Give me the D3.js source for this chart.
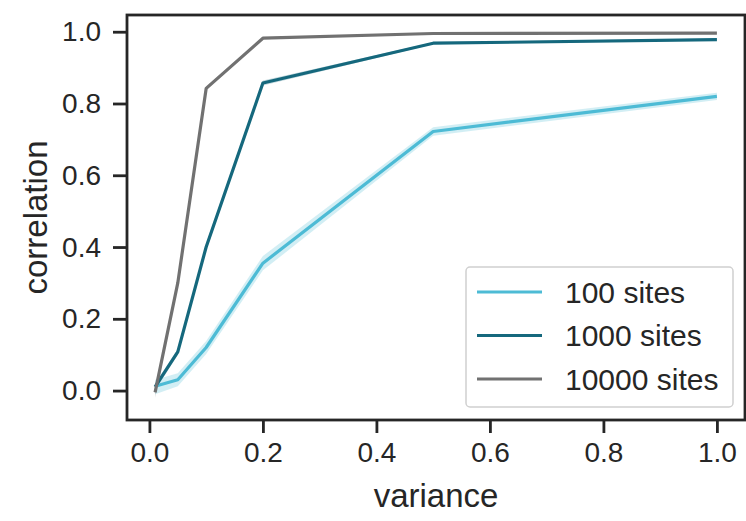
<!DOCTYPE html>
<html><head><meta charset="utf-8">
<script src="https://cdn.jsdelivr.net/npm/d3@7"></script>
<style>
body{margin:0;background:#fff;}
text{font-family:"Liberation Sans",Arial,sans-serif;fill:#262626;}
</style></head>
<body>
<svg id="chart" width="746" height="521"></svg>
<script>
const variance = [0.01, 0.05, 0.1, 0.2, 0.5, 1.0];
const seriesNames = ["100 sites", "1000 sites", "10000 sites"];
const colors = ["#4DBBD5", "#15687D", "#717171"];
const corr100 = [0.012, 0.030, 0.120, 0.355, 0.722, 0.820];
const lo100   = [-0.010, 0.012, 0.102, 0.335, 0.710, 0.810];
const hi100   = [0.030, 0.048, 0.138, 0.375, 0.734, 0.830];
const corr1000 = [0.010, 0.108, 0.400, 0.857, 0.968, 0.978];
const lo1000   = [0.000, 0.100, 0.390, 0.850, 0.965, 0.975];
const hi1000   = [0.020, 0.116, 0.410, 0.864, 0.971, 0.981];
const corr10000 = [-0.005, 0.300, 0.842, 0.982, 0.995, 0.996];
const lo10000   = [-0.020, 0.290, 0.836, 0.980, 0.994, 0.995];
const hi10000   = [0.010, 0.310, 0.848, 0.984, 0.996, 0.997];
const xTicks = [0.0, 0.2, 0.4, 0.6, 0.8, 1.0];
const yTicks = [0.0, 0.2, 0.4, 0.6, 0.8, 1.0];

const series = [
  {name: seriesNames[0], color: colors[0], y: corr100, lo: lo100, hi: hi100},
  {name: seriesNames[1], color: colors[1], y: corr1000, lo: lo1000, hi: hi1000},
  {name: seriesNames[2], color: colors[2], y: corr10000, lo: lo10000, hi: hi10000}
];

const L = 127, R = 745, T = 15, B = 420;
const x = d3.scaleLinear().domain([-0.0395, 1.0495]).range([L, R]);
const y = d3.scaleLinear().domain([-0.082, 1.0466]).range([B, T]);

const svg = d3.select("#chart");

// bands
series.forEach(s => {
  const area = d3.area()
    .x((d, i) => x(variance[i]))
    .y0((d, i) => y(s.lo[i]))
    .y1((d, i) => y(s.hi[i]));
  svg.append("path").datum(s.y).attr("d", area)
    .attr("fill", s.color).attr("fill-opacity", 0.25).attr("stroke", "none");
});
// lines
series.forEach(s => {
  const line = d3.line().x((d, i) => x(variance[i])).y(d => y(d));
  svg.append("path").datum(s.y).attr("d", line)
    .attr("fill", "none").attr("stroke", s.color).attr("stroke-width", 3.2)
    .attr("stroke-linejoin", "round");
});

// axes
const xAxis = d3.axisBottom(x).tickValues(xTicks).tickFormat(d3.format(".1f")).tickSize(13).tickPadding(9);
const yAxis = d3.axisLeft(y).tickValues(yTicks).tickFormat(d3.format(".1f")).tickSize(14).tickPadding(12);
const gx = svg.append("g").attr("transform", `translate(0,${B})`).call(xAxis);
const gy = svg.append("g").attr("transform", `translate(${L},0)`).call(yAxis);
[gx, gy].forEach(g => {
  g.select(".domain").remove();
  g.selectAll(".tick line").attr("stroke", "#262626").attr("stroke-width", 2.8);
  g.selectAll(".tick text").style("font-size", "28px").attr("fill", "#262626");
});

// frame
svg.append("rect").attr("x", L).attr("y", T).attr("width", R - L).attr("height", B - T)
  .attr("fill", "none").attr("stroke", "#262626").attr("stroke-width", 2.8);

// axis labels
svg.append("text").attr("x", (L + R) / 2).attr("y", 507).attr("text-anchor", "middle")
  .style("font-size", "33px").text("variance");
svg.append("text").attr("transform", `translate(47,${(T + B) / 2}) rotate(-90)`)
  .attr("text-anchor", "middle").style("font-size", "33px").text("correlation");

// legend
const lg = svg.append("g");
lg.append("rect").attr("x", 466).attr("y", 267).attr("width", 267).attr("height", 140)
  .attr("rx", 4).attr("fill", "#fff").attr("fill-opacity", 0.8)
  .attr("stroke", "#d0d0d0").attr("stroke-width", 1.5);
series.forEach((s, i) => {
  const yy = 292 + i * 43.5;
  lg.append("line").attr("x1", 477).attr("x2", 542).attr("y1", yy).attr("y2", yy)
    .attr("stroke", s.color).attr("stroke-width", 3.2);
  lg.append("text").attr("x", 565).attr("y", yy).attr("dy", "0.36em")
    .style("font-size", "30px").text(s.name);
});
</script>
</body></html>
